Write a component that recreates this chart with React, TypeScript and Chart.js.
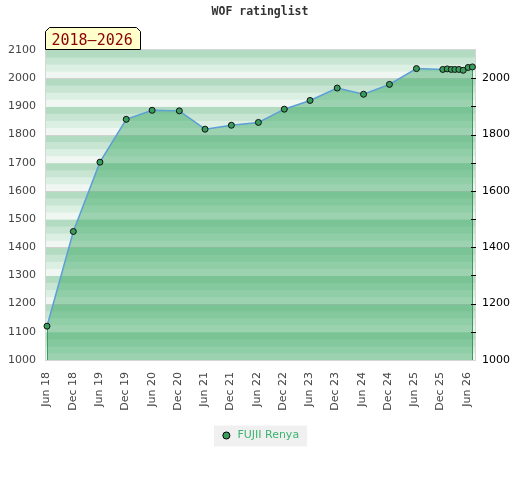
import React, { useEffect, useRef } from 'react';
import { Chart, registerables } from 'chart.js';

Chart.register(...registerables);

const chartTitle = 'WOF ratinglist';
const periodLabel = '2018–2026';
const seriesName = 'FUJII Renya';

const listDates = [
  '2018-06-04', '2018-12-04', '2019-06-07', '2019-12-07', '2020-06-04', '2020-12-10',
  '2021-06-07', '2021-12-07', '2022-06-13', '2022-12-10', '2023-06-07', '2023-12-13',
  '2024-06-13', '2024-12-10', '2025-06-16', '2025-12-16', '2026-01-16', '2026-02-13',
  '2026-03-10', '2026-04-07', '2026-05-07', '2026-06-10', '2026-07-10',
];
const ratings = [
  1120, 1456, 1702, 1854, 1886, 1884,
  1819, 1833, 1843, 1890, 1921, 1965,
  1943, 1978, 2034, 2031, 2033, 2031,
  2031, 2031, 2028, 2038, 2040,
];

const tickDates = [
  '2018-06-01', '2018-12-01', '2019-06-01', '2019-12-01', '2020-06-01', '2020-12-01',
  '2021-06-01', '2021-12-01', '2022-06-01', '2022-12-01', '2023-06-01', '2023-12-01',
  '2024-06-01', '2024-12-01', '2025-06-01', '2025-12-01', '2026-06-01',
];
const tickLabels = [
  'Jun 18', 'Dec 18', 'Jun 19', 'Dec 19', 'Jun 20', 'Dec 20',
  'Jun 21', 'Dec 21', 'Jun 22', 'Dec 22', 'Jun 23', 'Dec 23',
  'Jun 24', 'Dec 24', 'Jun 25', 'Dec 25', 'Jun 26',
];
const xMinDate = '2018-05-28';
const xMaxDate = '2026-07-28';
const yMin = 1000;
const yMax = 2100;

const stripeColors = ['#f0f7f2', '#dcefe3', '#c7e5d2', '#b3dbc2'];
const fillColor = 'rgba(47,165,90,0.44)';
const lineColor = '#5b9fd6';
const pointFill = '#3a9d5e';
const legendColor = '#3cb371';

const toMs = (s: string) => Date.parse(s + 'T00:00:00Z');

const decorPlugin = {
  id: 'decor',
  beforeDraw(chart: any) {
    const { ctx, chartArea: a, scales } = chart;
    const y = scales.y;
    ctx.save();
    for (let v = yMin; v < yMax; v += 25) {
      const q = Math.round((v - yMin) / 25) % 4;
      const top = y.getPixelForValue(v + 25);
      const bottom = y.getPixelForValue(v);
      ctx.fillStyle = stripeColors[q];
      ctx.fillRect(a.left, top, a.right - a.left, bottom - top + 0.5);
    }
    ctx.strokeStyle = '#d0d0d0';
    ctx.lineWidth = 1;
    scales.y2.ticks.forEach((t: any) => {
      if (t.value % 200 === 0 && t.value > yMin && t.value < yMax) {
        const p = Math.round(y.getPixelForValue(t.value)) + 0.5;
        ctx.beginPath();
        ctx.moveTo(a.left, p);
        ctx.lineTo(a.right, p);
        ctx.stroke();
      }
    });
    ctx.strokeStyle = '#d6d6d6';
    ctx.strokeRect(a.left - 0.5, a.top - 0.5, a.right - a.left + 1, a.bottom - a.top + 1);
    const hb = chart.legend && chart.legend.legendHitBoxes && chart.legend.legendHitBoxes[0];
    if (hb) {
      ctx.fillStyle = '#f0f0f0';
      ctx.fillRect(hb.left - 7, hb.top + hb.height / 2 - 10, hb.width + 15, 21);
    }
    ctx.restore();
  },
  beforeDatasetsDraw(chart: any) {
    const { ctx, chartArea: a } = chart;
    const meta = chart.getDatasetMeta(0);
    const pts = meta.data;
    if (!pts.length) return;
    ctx.save();
    ctx.strokeStyle = '#3f9c60';
    ctx.lineWidth = 1;
    [pts[0], pts[pts.length - 1]].forEach((p: any) => {
      const x = Math.round(p.x) + 0.5;
      ctx.beginPath();
      ctx.moveTo(x, p.y);
      ctx.lineTo(x, a.bottom);
      ctx.stroke();
    });
    ctx.restore();
  },
  afterDraw(chart: any) {
    const { ctx, chartArea: a, scales } = chart;
    ctx.save();
    // right axis tick marks
    ctx.strokeStyle = '#000';
    ctx.lineWidth = 1;
    scales.y2.ticks.forEach((t: any) => {
      if (t.value > yMin && t.value < yMax) {
        const p = Math.round(scales.y2.getPixelForValue(t.value)) + 0.5;
        ctx.beginPath();
        ctx.moveTo(a.right - 4, p);
        ctx.lineTo(a.right + 1, p);
        ctx.stroke();
      }
    });
    // title
    ctx.fillStyle = '#333';
    ctx.font = 'bold 11.5px "DejaVu Sans Mono"';
    ctx.textAlign = 'center';
    ctx.textBaseline = 'middle';
    ctx.fillText(chartTitle, chart.width / 2, 12.5);
    // period tab
    const L = a.left - 0.5;
    const R = L + 95;
    const T = 27.5;
    const B = a.top - 0.5;
    const c = 4;
    ctx.beginPath();
    ctx.moveTo(L, B);
    ctx.lineTo(L, T + c);
    ctx.lineTo(L + c, T);
    ctx.lineTo(R - c, T);
    ctx.lineTo(R, T + c);
    ctx.lineTo(R, B);
    ctx.closePath();
    ctx.fillStyle = '#ffffcc';
    ctx.fill();
    ctx.strokeStyle = '#000';
    ctx.stroke();
    ctx.fillStyle = '#8b0000';
    ctx.font = '15px "DejaVu Sans Mono"';
    ctx.textAlign = 'left';
    ctx.textBaseline = 'alphabetic';
    ctx.fillText(periodLabel, L + 6, 45.2);
    ctx.restore();
  },
};

export default function App() {
  const ref = useRef<HTMLCanvasElement>(null);
  useEffect(() => {
    if (!ref.current) return;
    Chart.defaults.font.family = '"DejaVu Sans"';
    const chart = new Chart(ref.current, {
      type: 'line',
      data: {
        datasets: [
          {
            label: seriesName,
            data: listDates.map((d, i) => ({ x: toMs(d), y: ratings[i] })),
            borderColor: lineColor,
            borderWidth: 1.5,
            backgroundColor: fillColor,
            fill: 'start',
            tension: 0,
            pointRadius: 3,
            pointBorderWidth: 1,
            pointBorderColor: '#111',
            pointBackgroundColor: pointFill,
            clip: 6,
          } as any,
        ],
      },
      options: {
        animation: false,
        responsive: false,
        events: [],
        layout: { padding: { top: 50, bottom: 29, left: 0, right: 0 } },
        scales: {
          x: {
            type: 'linear',
            min: toMs(xMinDate),
            max: toMs(xMaxDate),
            afterBuildTicks: (s: any) => {
              s.ticks = tickDates.map((d) => ({ value: toMs(d) }));
            },
            afterFit: (s: any) => {
              s.height = 60;
            },
            ticks: {
              autoSkip: false,
              minRotation: 90,
              maxRotation: 90,
              padding: 12,
              color: '#444',
              font: { size: 11 },
              callback: (_v: any, i: number) => tickLabels[i],
            },
            grid: { display: false, drawTicks: false },
            border: { display: false },
          },
          y: {
            position: 'left',
            min: yMin,
            max: yMax,
            afterFit: (s: any) => {
              s.width = 46;
            },
            ticks: {
              stepSize: 50,
              color: '#444',
              padding: 10,
              font: { size: 11 },
              callback: (v: any) => String(v),
            },
            grid: { display: false, drawTicks: false },
            border: { display: false },
          },
          y2: {
            position: 'right',
            min: yMin,
            max: yMax,
            afterFit: (s: any) => {
              s.width = 45;
            },
            ticks: {
              stepSize: 100,
              color: '#000',
              padding: 7,
              font: { size: 11 },
              callback: (v: any) => (v % 200 === 0 && v < yMax ? String(v) : ''),
            },
            grid: { display: false, drawTicks: false },
            border: { display: false },
          },
        } as any,
        plugins: {
          title: { display: false },
          tooltip: { enabled: false },
          legend: {
            position: 'bottom',
            labels: {
              font: { size: 11 },
              usePointStyle: true,
              boxWidth: 11,
              boxHeight: 5,
              padding: 10,
              color: legendColor,
              generateLabels: () => [
                {
                  text: seriesName,
                  fillStyle: pointFill,
                  strokeStyle: '#000',
                  lineWidth: 1,
                  pointStyle: 'circle',
                  hidden: false,
                  datasetIndex: 0,
                  fontColor: legendColor,
                } as any,
              ],
            },
          },
        },
      },
      plugins: [decorPlugin],
    });
    return () => chart.destroy();
  }, []);
  return (
    <div style={{ position: 'absolute', left: 0, top: 0, width: 520, height: 480, background: '#fff' }}>
      <canvas ref={ref} width={520} height={480} />
    </div>
  );
}
